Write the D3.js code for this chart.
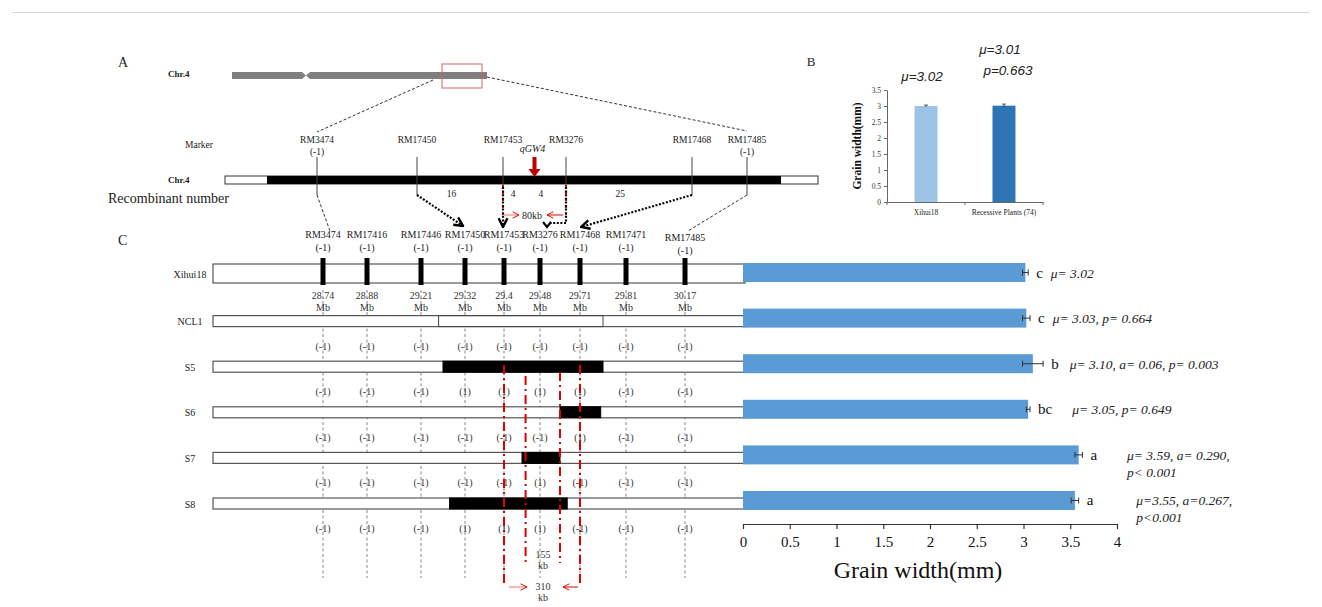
<!DOCTYPE html>
<html><head><meta charset="utf-8">
<script src="https://cdn.jsdelivr.net/npm/d3@7"></script>
<style>
body{margin:0;background:#fff}
svg{display:block;font-family:"Liberation Serif","Times New Roman",serif}
</style></head><body>
<svg id="chart" width="1322" height="607"></svg>
<script>
// ---- data ----
// panel A: coarse map
var aMarkers = ["RM3474", "RM17450", "RM17453", "RM3276", "RM17468", "RM17485"];
var aMarkerSub = ["(-1)", "", "", "", "", "(-1)"];
var recombinants = [16, 4, 4, 25];
var recPos = [1.4, 2.16, 2.6, 3.43];      // in marker-interval units
var qtlPos = 2.5;

// panel B
var bGroups = ["Xihui18", "Recessive Plants (74)"];
var bMeans = [3.00, 3.01];
var bErr = [0.03, 0.05];
var bNotes = [["μ=3.02"], ["μ=3.01", "p=0.663"]];
var bTicks = [0, 0.5, 1, 1.5, 2, 2.5, 3, 3.5];

// panel C: fine map
var cMarkers = ["RM3474", "RM17416", "RM17446", "RM17450", "RM17453", "RM3276", "RM17468", "RM17471", "RM17485"];
var cMb = ["28.74", "28.88", "29.21", "29.32", "29.4", "29.48", "29.71", "29.81", "30.17"];
var lines = ["Xihui18", "NCL1", "S5", "S6", "S7", "S8"];
var genotypes = {
  NCL1: [-1, -1, -1, -1, -1, -1, -1, -1, -1],
  S5: [-1, -1, -1, 1, 1, 1, 1, -1, -1],
  S6: [-1, -1, -1, -1, -1, -1, 1, -1, -1],
  S7: [-1, -1, -1, -1, -1, 1, -1, -1, -1],
  S8: [-1, -1, -1, 1, 1, 1, -1, -1, -1]
};
// introgressed segments, in marker-interval units
var segments = [
  {line: "NCL1", from: 2.4, to: 6.5, fill: "none"},
  {line: "S5", from: 2.5, to: 6.5, fill: "#000"},
  {line: "S6", from: 5.5, to: 6.45, fill: "#000"},
  {line: "S7", from: 4.5, to: 5.5, fill: "#000"},
  {line: "S8", from: 2.65, to: 5.68, fill: "#000"}
];
var cutLines = [{at: 4, y0: 365, y1: 586}, {at: 4.6, y0: 376, y1: 563}, {at: 5.5, y0: 372, y1: 563}, {at: 6, y0: 365, y1: 586}];

var gwMean = [3.02, 3.03, 3.10, 3.05, 3.59, 3.55];
var gwErr = [0.03, 0.04, 0.11, 0.02, 0.04, 0.04];
var sigLetters = ["c", "c", "b", "bc", "a", "a"];
var statText = [["μ= 3.02"], ["μ= 3.03, p= 0.664"], ["μ= 3.10, a= 0.06, p= 0.003"],
  ["μ= 3.05, p= 0.649"], ["μ= 3.59, a= 0.290,", "p< 0.001"], ["μ=3.55, a=0.267,", "p<0.001"]];
var xTicks = [0, 0.5, 1, 1.5, 2, 2.5, 3, 3.5, 4];

// ---- drawing ----
var svg = d3.select("#chart");
var red = "#e00000";

svg.append("line").attr("x1", 12).attr("x2", 1310).attr("y1", 12.5).attr("y2", 12.5)
  .attr("stroke", "#d9d9d9");

var defs = svg.append("defs");
var mk = function(id, color, size, sw){
  defs.append("marker").attr("id", id).attr("viewBox", "0 0 10 10")
    .attr("refX", 9).attr("refY", 5).attr("markerUnits", "userSpaceOnUse")
    .attr("markerWidth", size).attr("markerHeight", size).attr("orient", "auto")
    .append("path").attr("d", "M1,1 L9,5 L1,9").attr("fill", "none")
    .attr("stroke", color).attr("stroke-width", sw);
};
mk("blk", "#000", 11, 2.2);
mk("redA", red, 8, 1.2);

var txt = function(x, y, s, size, opts){
  opts = opts || {};
  return svg.append("text").attr("x", x).attr("y", y).text(s)
    .attr("font-size", size).attr("text-anchor", opts.anchor || "middle")
    .attr("font-weight", opts.bold ? "bold" : null)
    .attr("font-style", opts.italic ? "italic" : null)
    .attr("font-family", opts.font || null)
    .attr("fill", opts.fill || "#222");
};

// ===== panel A =====
txt(118, 67, "A", 14, {anchor: "start"});
txt(168, 77, "Chr.4", 9, {anchor: "start", bold: true});
svg.append("path")
  .attr("d", "M232,72 L302,72 L306,75.5 L310,72 L487,72 L487,79 L310,79 L306,75.5 L302,79 L232,79 Z")
  .attr("fill", "#7f7f7f");
svg.append("rect").attr("x", 442).attr("y", 64).attr("width", 40).attr("height", 24)
  .attr("fill", "none").attr("stroke", "#e06060").attr("stroke-width", 1);

var xA = d3.scaleLinear().domain(d3.range(aMarkers.length)).range([317, 417, 503, 566, 692, 747]);
var xC = d3.scaleLinear().domain(d3.range(cMarkers.length)).range([323, 367, 421, 465, 504, 540, 580, 626, 685]);

svg.append("line").attr("x1", 433).attr("y1", 80).attr("x2", xA(0)).attr("y2", 132)
  .attr("stroke", "#333").attr("stroke-dasharray", "3,2");
svg.append("line").attr("x1", 487).attr("y1", 77).attr("x2", xA(5)).attr("y2", 131)
  .attr("stroke", "#333").attr("stroke-dasharray", "3,2");

txt(199, 148, "Marker", 9.5);
txt(168, 183, "Chr.4", 9, {anchor: "start", bold: true});
svg.append("rect").attr("x", 225).attr("y", 176).attr("width", 593).attr("height", 8)
  .attr("fill", "#fff").attr("stroke", "#333");
svg.append("rect").attr("x", 267).attr("y", 176).attr("width", 514).attr("height", 8)
  .attr("fill", "#000");

var aG = svg.append("g").selectAll("g").data(aMarkers).enter().append("g");
aG.append("text").attr("x", (d, i) => xA(i)).attr("y", 143).attr("text-anchor", "middle")
  .attr("font-size", 9.5).attr("fill", "#222").text(d => d);
aG.append("text").attr("x", (d, i) => xA(i)).attr("y", 155).attr("text-anchor", "middle")
  .attr("font-size", 9.5).attr("fill", "#222").text((d, i) => aMarkerSub[i]);
aG.append("line").attr("x1", (d, i) => xA(i)).attr("x2", (d, i) => xA(i))
  .attr("y1", 157).attr("y2", (d, i) => (i == 2 || i == 3) ? 185 : 195)
  .attr("stroke", "#444").attr("stroke-width", 1);

txt(108, 203, "Recombinant number", 14, {anchor: "start"});
svg.selectAll(".rec").data(recombinants).enter().append("text").attr("class", "rec")
  .attr("x", (d, i) => xA(recPos[i])).attr("y", 197).attr("text-anchor", "middle")
  .attr("font-size", 9.5).attr("fill", "#222").text(d => d);

// qGW4 arrow
var qx = xA(qtlPos);
txt(qx - 2, 152, "qGW4", 10, {italic: true});
svg.append("path")
  .attr("d", "M" + (qx - 2) + ",157 h4 v12 h4 l-6,8 l-6,-8 h4 z")
  .attr("fill", "#c00000");

// thin dashed guides to panel C
var thin = [[0, "RM3474"], [5, "RM17485"]];
thin.forEach(function(t){
  svg.append("line").attr("x1", xA(t[0])).attr("y1", 195)
    .attr("x2", xC(cMarkers.indexOf(t[1])) + (t[0] ? 3 : 7)).attr("y2", 231)
    .attr("stroke", "#333").attr("stroke-dasharray", "3,2");
});

// red dots under the flanking lines
[2, 3].forEach(function(i){
  svg.append("line").attr("x1", xA(i)).attr("x2", xA(i)).attr("y1", 185).attr("y2", 215)
    .attr("stroke", red).attr("stroke-width", 2).attr("stroke-dasharray", "2,5");
});
// dotted arrows
var dot = function(d){
  svg.append("path").attr("d", d).attr("fill", "none").attr("stroke", "#000")
    .attr("stroke-width", 2.2).attr("stroke-dasharray", "2,1.6").attr("marker-end", "url(#blk)");
};
dot("M" + xA(1) + ",195 L" + (xC(3) - 2) + ",226");
dot("M" + xA(2) + ",187 L" + xA(2) + ",227");
svg.append("path").attr("d", "M" + xA(3) + ",187 L" + xA(3) + ",223 L" + (xC(5) + 11) + ",223")
  .attr("fill", "none").attr("stroke", "#000").attr("stroke-width", 2.2).attr("stroke-dasharray", "2,1.6");
svg.append("path").attr("d", "M" + (xC(5) + 3) + ",222 l4,5 l4,-5").attr("fill", "none")
  .attr("stroke", "#000").attr("stroke-width", 2.2);
dot("M" + xA(4) + ",195 L" + (xC(6) + 1) + ",227");

// 80kb
txt(532, 219, "80kb", 10);
svg.append("line").attr("x1", xA(2) + 1).attr("x2", 519).attr("y1", 215).attr("y2", 215)
  .attr("stroke", "#f07070").attr("stroke-width", 1).attr("marker-end", "url(#redA)");
svg.append("line").attr("x1", xA(3) - 3).attr("x2", 547).attr("y1", 215).attr("y2", 215)
  .attr("stroke", red).attr("stroke-width", 1).attr("marker-end", "url(#redA)");

// ===== panel B =====
txt(811, 66, "B", 13);
var yB = d3.scaleLinear().domain([0, 3.5]).range([202, 90]);
var xB = d3.scaleBand().domain(bGroups).range([887, 1043]).paddingInner(0.705).paddingOuter(0.353);
var bColors = ["#9dc3e6", "#2e75b6"];

svg.append("g").attr("transform", "translate(887,0)")
  .call(d3.axisLeft(yB).tickValues(bTicks).tickFormat(d3.format("~g")).tickSize(3).tickSizeOuter(0))
  .call(g => g.selectAll("text").attr("font-size", 7.5).attr("font-family", "Liberation Serif").attr("fill", "#333"))
  .call(g => g.selectAll("line,path").attr("stroke", "#666"));
var bx = svg.append("g").attr("transform", "translate(0,202)")
  .call(d3.axisBottom(xB).tickSize(0).tickSizeOuter(0).tickPadding(8))
  .call(g => g.selectAll("text").attr("font-size", 7.5).attr("font-family", "Liberation Serif").attr("fill", "#222"))
  .call(g => g.selectAll("path").attr("stroke", "#666"));
[887, 965, 1043].forEach(function(x){
  bx.append("line").attr("x1", x).attr("x2", x).attr("y1", 0).attr("y2", 3).attr("stroke", "#666");
});

svg.selectAll(".bbar").data(bGroups).enter().append("rect").attr("class", "bbar")
  .attr("x", d => xB(d)).attr("width", xB.bandwidth())
  .attr("y", (d, i) => yB(bMeans[i])).attr("height", (d, i) => 202 - yB(bMeans[i]))
  .attr("fill", (d, i) => bColors[i]);
bGroups.forEach(function(g, i){
  var cx = xB(g) + xB.bandwidth() / 2;
  var e = svg.append("g").attr("stroke", "#333").attr("stroke-width", 0.8);
  e.append("line").attr("x1", cx).attr("x2", cx).attr("y1", yB(bMeans[i] + bErr[i])).attr("y2", yB(bMeans[i] - bErr[i]));
  e.append("line").attr("x1", cx - 2).attr("x2", cx + 2).attr("y1", yB(bMeans[i] + bErr[i])).attr("y2", yB(bMeans[i] + bErr[i]));
  bNotes[i].forEach(function(s, j){
    var y0 = bNotes[i].length == 1 ? 81 : 54;
    svg.append("text").attr("x", cx + (j ? 4 : -4)).attr("y", y0 + j * 21)
      .attr("text-anchor", "middle").attr("font-size", 13.5).attr("font-style", "italic")
      .attr("font-family", "Liberation Sans, Arial, sans-serif").attr("fill", "#222").text(s);
  });
});
svg.append("text").attr("transform", "translate(861,146) rotate(-90)").attr("text-anchor", "middle")
  .attr("font-size", 11.5).attr("font-weight", "bold").attr("fill", "#111").text("Grain width(mm)");

// ===== panel C =====
txt(118, 245, "C", 14, {anchor: "start"});

var cG = svg.append("g").selectAll("g").data(cMarkers).enter().append("g");
cG.append("text").attr("x", (d, i) => xC(i)).attr("y", (d, i) => i == 8 ? 241 : 238)
  .attr("text-anchor", "middle").attr("font-size", 10).attr("fill", "#222").text(d => d);
cG.append("text").attr("x", (d, i) => xC(i)).attr("y", (d, i) => i == 8 ? 254 : 251)
  .attr("text-anchor", "middle").attr("font-size", 10).attr("fill", "#222").text("(-1)");

var yRow = d3.scaleBand().domain(lines).range([263, 510]).paddingInner(0.583).paddingOuter(0);
var bw = yRow.bandwidth();
var rowX0 = 213, rowX1 = 745;

// dashed marker guides
cG.append("line").attr("x1", (d, i) => xC(i)).attr("x2", (d, i) => xC(i))
  .attr("y1", 290).attr("y2", 578).attr("stroke", "#888").attr("stroke-width", 1)
  .attr("stroke-dasharray", "3,2.5");

// chromosome rows
lines.forEach(function(l, k){
  var first = k == 0;
  var top = first ? yRow(l) + 1 : yRow(l) + bw - 12;
  var h = first ? bw : 11;
  svg.append("rect").attr("x", rowX0).attr("y", top).attr("width", rowX1 - rowX0).attr("height", h)
    .attr("fill", "#fff").attr("stroke", "#555").attr("stroke-width", 1.2);
  txt(190, top + h / 2 + 4, l, 10);
});
svg.selectAll(".seg").data(segments).enter().append("rect").attr("class", "seg")
  .attr("x", d => xC(d.from)).attr("width", d => xC(d.to) - xC(d.from))
  .attr("y", d => yRow(d.line) + bw - 12).attr("height", 11)
  .attr("fill", d => d.fill).attr("stroke", d => d.fill == "none" ? "#444" : "#000");

// marker ticks on Xihui18
svg.selectAll(".tk").data(cMarkers).enter().append("rect").attr("class", "tk")
  .attr("x", (d, i) => xC(i) - 2.5).attr("width", 5).attr("y", yRow("Xihui18") - 5).attr("height", bw + 8)
  .attr("fill", "#000");

// Mb positions
cMb.forEach(function(m, i){
  var t = svg.append("text").attr("x", xC(i)).attr("y", 299).attr("text-anchor", "middle")
    .attr("font-size", 10).attr("fill", "#333");
  t.append("tspan").attr("x", xC(i)).text(m);
  t.append("tspan").attr("x", xC(i)).attr("dy", 12).text("Mb");
});

// genotype labels
Object.keys(genotypes).forEach(function(l){
  genotypes[l].forEach(function(v, i){
    txt(xC(i), yRow(l) + bw + 22, "(" + v + ")", 10, {fill: "#333"});
  });
});

// red dash-dot boundaries
svg.selectAll(".cut").data(cutLines).enter().append("line").attr("class", "cut")
  .attr("x1", d => xC(d.at)).attr("x2", d => xC(d.at)).attr("y1", d => d.y0).attr("y2", d => d.y1)
  .attr("stroke", red).attr("stroke-width", 2).attr("stroke-dasharray", "9,4,2,4");

txt(543, 558, "155", 10, {fill: "#333"});
txt(543, 569, "kb", 10, {fill: "#333"});
txt(543, 590, "310", 10, {fill: "#333"});
txt(543, 601, "kb", 10, {fill: "#333"});
svg.append("line").attr("x1", xC(4) + 5).attr("x2", 527).attr("y1", 587).attr("y2", 587)
  .attr("stroke", "#f07070").attr("marker-end", "url(#redA)");
svg.append("line").attr("x1", xC(6) - 2).attr("x2", 563).attr("y1", 587).attr("y2", 587)
  .attr("stroke", red).attr("marker-end", "url(#redA)");

// grain width bars
var xBar = d3.scaleLinear().domain([0, 4]).range([743, 1117]);
svg.selectAll(".gw").data(lines).enter().append("rect").attr("class", "gw")
  .attr("x", xBar(0)).attr("y", d => yRow(d)).attr("height", bw)
  .attr("width", (d, i) => xBar(gwMean[i]) - xBar(0)).attr("fill", "#5b9bd5");

var statGap = [8, 8, 11, 20, 30, 43];
lines.forEach(function(l, i){
  var cy = yRow(l) + bw / 2;
  var e0 = xBar(gwMean[i] - gwErr[i]), e1 = xBar(gwMean[i] + gwErr[i]);
  var e = svg.append("g").attr("stroke", "#333").attr("stroke-width", 1);
  e.append("line").attr("x1", e0).attr("x2", e1).attr("y1", cy).attr("y2", cy);
  e.append("line").attr("x1", e0).attr("x2", e0).attr("y1", cy - 3).attr("y2", cy + 3);
  e.append("line").attr("x1", e1).attr("x2", e1).attr("y1", cy - 3).attr("y2", cy + 3);
  var lt = txt(e1 + 8, cy + 5, sigLetters[i], 15, {anchor: "start", fill: "#111"});
  var lx = e1 + 8 + lt.node().getComputedTextLength() + statGap[i];
  statText[i].forEach(function(s, j){
    txt(lx, cy + 5 + j * 17, s, 13.5, {anchor: "start", italic: true, fill: "#222"});
  });
});

svg.append("g").attr("transform", "translate(0,524)")
  .call(d3.axisBottom(xBar).tickValues(xTicks).tickFormat(d3.format("~g")).tickSize(5).tickSizeOuter(0).tickPadding(7))
  .call(g => g.selectAll("text").attr("font-size", 15).attr("font-family", "Liberation Serif").attr("fill", "#111"))
  .call(g => g.selectAll("line,path").attr("stroke", "#333").attr("stroke-width", 1.2));
txt(918, 578, "Grain width(mm)", 24, {fill: "#111"});
</script>
</body></html>
